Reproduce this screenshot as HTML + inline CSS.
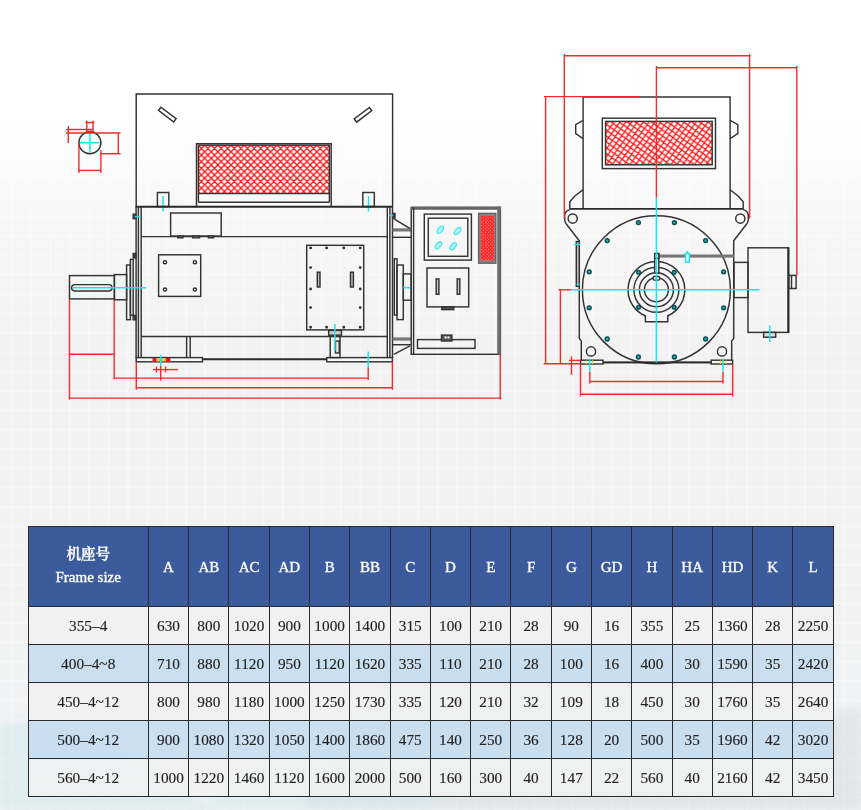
<!DOCTYPE html>
<html lang="zh"><head><meta charset="utf-8"><title>Frame size</title>
<style>
html,body{margin:0;padding:0;background:#fff;}
body{width:861px;height:810px;overflow:hidden;font-family:"Liberation Serif","Noto Serif CJK SC",serif;}
.page{position:relative;width:861px;height:810px;overflow:hidden;background:#fff;}
.bg{position:absolute;left:0;top:0;width:861px;height:810px;
 background:linear-gradient(to bottom,#ffffff 0px,#ffffff 115px,#f9f9f9 190px,#f5f5f5 270px,#f3f2f2 350px,#f3f2f2 560px,#eef2f4 810px);}
.grid{position:absolute;left:0;top:0;width:861px;height:810px;
 background-image:linear-gradient(to right,rgba(255,255,255,.3) 0,rgba(255,255,255,.3) 2px,transparent 2px),
 linear-gradient(to bottom,rgba(255,255,255,.3) 0,rgba(255,255,255,.3) 2px,transparent 2px);
 background-size:19.35px 19.35px;background-position:11px 3px;}
svg.d,svg.deco{position:absolute;left:0;top:0;}
svg.d{filter:blur(.3px);}
table.t{position:absolute;left:27.5px;top:526px;border-collapse:collapse;table-layout:fixed;width:805.5px;}
table.t th,table.t td{box-sizing:border-box;border:1px solid #2a2a2a;padding:0;text-align:center;vertical-align:middle;font-weight:normal;}
table.t th{background:#3c5b9c;color:#fff;-webkit-text-stroke:.35px #fff;padding-top:1px;height:80px;font-size:15px;width:40.29px;}
table.t th.f{width:120.4px;font-size:15px;line-height:23px;padding-bottom:3px;}
.cn{font-weight:600;font-size:14.5px;}
table.t td{-webkit-text-stroke:.15px #222;height:38px;font-size:15.3px;color:#222;}
tr.w td{background:rgba(241,241,241,.85);}
tr.b td{background:rgba(199,221,240,.9);}

</style></head>
<body>
<div class="page">
<div class="bg"></div>
<div class="grid"></div>
<svg class="deco" width="861" height="810" viewBox="0 0 861 810">
<defs><filter id="sb" x="-10%" y="-10%" width="120%" height="120%"><feGaussianBlur stdDeviation="5"/></filter></defs>
<g filter="url(#sb)">
<path d="M430 650C520 615 640 640 740 690C790 712 830 715 861 708V810H300C330 740 370 675 430 650Z" fill="#d6dcdf" opacity=".55"/>
<path d="M0 725C50 715 120 740 180 785C195 795 203 803 210 810H0Z" fill="#d3e7ec" opacity=".6"/>
<path d="M200 810C230 770 290 745 350 760C400 772 430 795 440 810Z" fill="#d4e9ee" opacity=".55"/>
</g>
</svg>
<svg class="d" width="861" height="810" viewBox="0 0 861 810">
<defs>
<pattern id="mesh" patternUnits="userSpaceOnUse" width="6.6" height="6.6">
<rect x="0" y="0" width="6.6" height="6.6" fill="#fff"/>
<path d="M-1 -1L7.6 7.6M-1 7.6L7.6 -1M-1 5.6L1 7.6M5.6 -1L7.6 1M-1 1L1 -1M5.6 7.6L7.6 5.6" stroke="#ff1616" stroke-width="1.35" fill="none"/>
</pattern>
<pattern id="mesh3" patternUnits="userSpaceOnUse" width="6.7" height="6.7" patternTransform="rotate(-9)">
<rect x="0" y="0" width="6.7" height="6.7" fill="#fff"/>
<path d="M-1 -1L7.7 7.7M-1 7.7L7.7 -1M-1 5.7L1 7.7M5.7 -1L7.7 1M-1 1L1 -1M5.7 7.7L7.7 5.7" stroke="#ff1616" stroke-width="1.35" fill="none"/>
</pattern>
<pattern id="mesh2" patternUnits="userSpaceOnUse" width="2.4" height="2.4" patternTransform="rotate(45)">
<rect x="0" y="0" width="2.4" height="2.4" fill="#ff2626"/>
<rect x="0.6" y="0.6" width="1" height="1" fill="#ff9c9c"/>
</pattern>
</defs>
<style>
.k{stroke:#333;stroke-width:1.45;fill:none}
.kf{stroke:#333;stroke-width:1.45;fill:#f7f7f7}
.k2{stroke:#2a2a2a;stroke-width:1.9;fill:none}
.g{stroke:none;fill:#777}
.r{stroke:#f52a2a;stroke-width:1.4;fill:none}
.c{stroke:#1fe3ea;stroke-width:1.5;fill:none}
.y{stroke:#e8e020;stroke-width:1.2;fill:none}
.b{stroke:#0a4d52;stroke-width:1.5;fill:#1cc4cb}
</style>
<g id="side">
<path class="k" d="M136.2 206.5V94H392.6V206.5"/>
<rect class="k" x="-9.5" y="-2" width="19" height="4" transform="translate(167.3 114.6) rotate(37)"/>
<rect class="k" x="-9.5" y="-2" width="19" height="4" transform="translate(363 114.8) rotate(-37)"/>
<path class="k" d="M196.5 206.5V143.8H331.2V206.5"/>
<rect class="k" x="198.4" y="145.2" width="131.0" height="48.3" style="fill:url(#mesh)"/>
<line class="k" x1="198.4" y1="202.2" x2="329.4" y2="202.2"/>
<line class="k" x1="198.4" y1="193.5" x2="198.4" y2="202.2"/>
<line class="k" x1="329.4" y1="193.5" x2="329.4" y2="202.2"/>
<rect class="k" x="157.4" y="192.5" width="11.4" height="14.0"/>
<rect class="k" x="362.8" y="192.5" width="11.5" height="14.0"/>
<line class="c" x1="163.1" y1="196" x2="163.1" y2="211.5"/>
<line class="c" x1="368.5" y1="196" x2="368.5" y2="211.5"/>
<line class="k2" x1="135.6" y1="206.7" x2="393" y2="206.7"/>
<line class="k" x1="136.1" y1="206.5" x2="136.1" y2="358"/>
<line class="k" x1="138.4" y1="206.5" x2="138.4" y2="358"/>
<line class="k" x1="141.2" y1="206.5" x2="141.2" y2="358"/>
<line class="k" x1="387.3" y1="206.5" x2="387.3" y2="358"/>
<line class="k" x1="389.9" y1="206.5" x2="389.9" y2="358"/>
<line class="k" x1="392.5" y1="206.5" x2="392.5" y2="358"/>
<line class="k" x1="141.2" y1="236.6" x2="387.3" y2="236.6"/>
<line class="k" x1="141.2" y1="336.4" x2="387.3" y2="336.4"/>
<line class="k" x1="186.6" y1="336.4" x2="186.6" y2="357.6"/>
<line class="k" x1="190.2" y1="336.4" x2="190.2" y2="357.6"/>
<line class="k2" x1="202.5" y1="359.2" x2="326.8" y2="359.2"/>
<rect class="kf" x="136.2" y="357.6" width="66.3" height="4.2"/>
<rect class="kf" x="326.8" y="357.6" width="65.6" height="4.2"/>
<rect class="k" x="133.2" y="214.20000000000002" width="2.6" height="4.4" style="fill:#444"/>
<rect class="k" x="133.2" y="253.5" width="2.6" height="4.4" style="fill:#444"/>
<rect class="k" x="133.2" y="315.40000000000003" width="2.6" height="4.4" style="fill:#444"/>
<line class="c" x1="135" y1="216.6" x2="140" y2="216.6"/>
<rect class="k" x="392.6" y="213.5" width="2.4" height="4.5" style="fill:#444"/>
<line class="c" x1="389" y1="215.5" x2="393" y2="215.5"/>
<rect class="k" x="170.6" y="213" width="50.6" height="23"/>
<rect class="k" x="177.7" y="236" width="5.2" height="1.8" style="fill:#999"/>
<rect class="k" x="192.6" y="236" width="6.9" height="1.8" style="fill:#999"/>
<rect class="k" x="208.4" y="236" width="5.1" height="1.8" style="fill:#999"/>
<rect class="k" x="158.6" y="254.8" width="42.1" height="41.6"/>
<circle class="k" cx="165" cy="262.2" r="1.6"/>
<circle class="k" cx="194.9" cy="262.2" r="1.6"/>
<circle class="k" cx="165" cy="289.5" r="1.6"/>
<circle class="k" cx="194.9" cy="289.5" r="1.6"/>
<rect class="k" x="306.7" y="245.3" width="57.0" height="84.6"/>
<circle class="k" cx="310.6" cy="247.9" r="0.7" style="fill:#333"/>
<circle class="k" cx="310.6" cy="327.3" r="0.7" style="fill:#333"/>
<circle class="k" cx="326.6" cy="247.9" r="0.7" style="fill:#333"/>
<circle class="k" cx="326.6" cy="327.3" r="0.7" style="fill:#333"/>
<circle class="k" cx="343.8" cy="247.9" r="0.7" style="fill:#333"/>
<circle class="k" cx="343.8" cy="327.3" r="0.7" style="fill:#333"/>
<circle class="k" cx="360.2" cy="247.9" r="0.7" style="fill:#333"/>
<circle class="k" cx="360.2" cy="327.3" r="0.7" style="fill:#333"/>
<circle class="k" cx="310.6" cy="267.6" r="0.7" style="fill:#333"/>
<circle class="k" cx="360.2" cy="267.6" r="0.7" style="fill:#333"/>
<circle class="k" cx="310.6" cy="289" r="0.7" style="fill:#333"/>
<circle class="k" cx="360.2" cy="289" r="0.7" style="fill:#333"/>
<circle class="k" cx="310.6" cy="307.6" r="0.7" style="fill:#333"/>
<circle class="k" cx="360.2" cy="307.6" r="0.7" style="fill:#333"/>
<rect class="k" x="317.3" y="272.2" width="2.7" height="14.8" style="fill:#bbb"/>
<rect class="k" x="350.5" y="272.2" width="2.9" height="14.8" style="fill:#bbb"/>
<rect class="k" x="328.7" y="330.4" width="12.8" height="4.8" style="fill:#ccc"/>
<rect class="k" x="330.2" y="336.4" width="9.8" height="21.2"/>
<rect class="k" x="335.5" y="341" width="3.7" height="12"/>
<line class="c" x1="334.9" y1="324" x2="334.9" y2="351"/>
<rect class="k" x="69.5" y="275.6" width="44.9" height="23.3"/>
<rect class="k" x="71.6" y="284.6" width="40.5" height="6.3" rx="3.1" ry="3.1"/>
<rect class="k" x="114.4" y="274.6" width="12.2" height="25.2"/>
<rect class="k" x="126.6" y="265" width="3.8" height="54.7"/>
<rect class="k" x="130.4" y="259.4" width="2.8" height="55.8"/>
<line class="c" x1="72" y1="287.7" x2="146.2" y2="287.7"/>
<rect class="k" x="394.3" y="258.8" width="2.7" height="56.2"/>
<rect class="k" x="397" y="265" width="6.3" height="54.6"/>
<rect class="k" x="403.3" y="273.9" width="7.9" height="26.3"/>
<line class="c" x1="403.3" y1="287.7" x2="411.2" y2="287.7"/>
<rect class="g" x="392.5" y="228.3" width="18.7" height="3.2"/>
<line class="k" x1="392.5" y1="237.3" x2="411.2" y2="237.3"/>
<line class="k" x1="393.9" y1="218.9" x2="409.8" y2="228.3"/>
<rect class="g" x="392.5" y="337.4" width="18.7" height="3.2"/>
<line class="k" x1="392.5" y1="344.7" x2="411.2" y2="344.7"/>
<line class="k" x1="409.8" y1="345.8" x2="393.9" y2="354.4"/>
<rect class="k" x="411.2" y="207.5" width="89.2" height="146.8"/>
<rect x="411.2" y="206.6" width="89.4" height="3.2" fill="#666"/>
<rect x="497.2" y="206.6" width="3.6" height="147.7" fill="#6e6e6e"/>
<line class="k" x1="413.6" y1="207.5" x2="413.6" y2="354.3"/>
<rect class="k" x="424.3" y="214.1" width="47.1" height="46.0"/>
<rect class="k" x="428.3" y="218.2" width="39.5" height="38.1"/>
<ellipse class="c" style="stroke-width:1.3;fill:#b5f6f9;stroke:#45e6ec" cx="440.3" cy="229.8" rx="4.2" ry="2.2" fill="#dffbfc" transform="rotate(-50 440.3 229.8)"/>
<ellipse class="c" style="stroke-width:1.3;fill:#b5f6f9;stroke:#45e6ec" cx="457.6" cy="231" rx="4.2" ry="2.2" fill="#dffbfc" transform="rotate(-50 457.6 231)"/>
<ellipse class="c" style="stroke-width:1.3;fill:#b5f6f9;stroke:#45e6ec" cx="438.4" cy="245.4" rx="4.2" ry="2.2" fill="#dffbfc" transform="rotate(-50 438.4 245.4)"/>
<ellipse class="c" style="stroke-width:1.3;fill:#b5f6f9;stroke:#45e6ec" cx="453.2" cy="246.3" rx="4.2" ry="2.2" fill="#dffbfc" transform="rotate(-50 453.2 246.3)"/>
<rect class="k" x="478.6" y="213.4" width="17.2" height="49.8" style="fill:#858585;stroke:#666"/>
<rect class="k" x="480.8" y="216" width="13.4" height="44.3" style="fill:url(#mesh2);stroke:none"/>
<rect class="k" x="427" y="268" width="41.7" height="38.9"/>
<rect class="k" x="436.2" y="278.9" width="2.7" height="15.4" style="fill:#ccc"/>
<rect class="k" x="457.2" y="278.9" width="2.6" height="15.4" style="fill:#ccc"/>
<rect class="k" x="441.8" y="306.9" width="11.9" height="2.7" style="fill:#555"/>
<rect class="k" x="417.5" y="339.6" width="57.5" height="8.8"/>
<rect class="k" x="441.5" y="335.1" width="10.4" height="5.9" style="fill:#555"/>
<rect class="k" x="444.5" y="336.4" width="2.0" height="2.0" style="fill:#fff;stroke:none"/>
<rect class="k" x="447.5" y="336.4" width="2.0" height="2.0" style="fill:#fff;stroke:none"/>
<line class="r" x1="69.5" y1="299" x2="69.5" y2="399.6"/>
<line class="r" x1="114.2" y1="299.8" x2="114.2" y2="379.2"/>
<line class="r" x1="69.5" y1="354.3" x2="114.2" y2="354.3"/>
<line class="r" x1="114.2" y1="378.1" x2="368.2" y2="378.1"/>
<line class="r" x1="136.3" y1="362" x2="136.3" y2="389.8"/>
<line class="r" x1="392.4" y1="362" x2="392.4" y2="389.8"/>
<line class="r" x1="136.3" y1="387.8" x2="392.4" y2="387.8"/>
<line class="r" x1="69.5" y1="398.1" x2="500.3" y2="398.1"/>
<line class="r" x1="500.3" y1="354.3" x2="500.3" y2="399.6"/>
<line class="r" x1="368.2" y1="367" x2="368.2" y2="380"/>
<line class="c" x1="368.2" y1="351.5" x2="368.2" y2="367.4"/>
<rect class="k" x="152.6" y="358" width="4.0" height="4" style="fill:#e01818;stroke:none"/>
<rect class="k" x="165.6" y="358" width="4.8" height="4" style="fill:#e01818;stroke:none"/>
<rect class="k" x="156.6" y="358.6" width="9.0" height="2.8" style="fill:#f1c232;stroke:none"/>
<line class="c" x1="160.7" y1="354.8" x2="160.7" y2="366"/>
<line class="r" x1="160.7" y1="366" x2="160.7" y2="380.5"/>
<line class="r" x1="153" y1="369.6" x2="178" y2="369.6"/>
<line class="r" x1="156.5" y1="366.5" x2="156.5" y2="372.5"/>
<line class="r" x1="165.5" y1="366.5" x2="165.5" y2="372.5"/>
</g>
<g id="key">
<circle class="k" cx="89.9" cy="142.7" r="11"/>
<line class="c" x1="80" y1="142.7" x2="99.6" y2="142.7"/>
<line class="c" x1="89.9" y1="133" x2="89.9" y2="152.5"/>
<rect class="k" x="86.8" y="130.6" width="6.2" height="2.2" style="fill:#d22;stroke:none"/>
<line class="r" x1="86.8" y1="120.5" x2="86.8" y2="133"/>
<line class="r" x1="93" y1="120.5" x2="93" y2="133"/>
<line class="r" x1="85.5" y1="122.6" x2="94.5" y2="122.6"/>
<line class="r" x1="66" y1="129.5" x2="93" y2="129.5"/>
<line class="r" x1="66" y1="133" x2="120.5" y2="133"/>
<line class="r" x1="68.3" y1="126" x2="68.3" y2="143"/>
<line class="r" x1="100" y1="153.7" x2="120.5" y2="153.7"/>
<line class="r" x1="118.3" y1="133" x2="118.3" y2="153.7"/>
<line class="r" x1="78.9" y1="143" x2="78.9" y2="173"/>
<line class="r" x1="100.9" y1="150" x2="100.9" y2="173"/>
<line class="r" x1="78.9" y1="170.4" x2="100.9" y2="170.4"/>
</g>
<g id="end">
<path class="k" d="M583.1 208.8V97H730.1V208.8"/>
<path class="k" d="M583.1 120.4L575.7 124.7V133.5L583.1 138.7"/>
<path class="k" d="M730.1 120.4L737.8 124.7V133.5L730.1 138.7"/>
<path class="k" d="M583.1 189.7L574.6 196.2L569.8 201.8V208.8"/>
<path class="k" d="M730.1 189.7L738.4 196.2L743.2 201.8V208.8"/>
<line class="k2" x1="569.4" y1="208.9" x2="743.6" y2="208.9"/>
<rect class="k" x="602.3" y="118.2" width="113.2" height="50.4"/>
<rect class="k" x="605.6" y="121.4" width="106.6" height="43.4" style="fill:url(#mesh3)"/>
<path class="k" d="M569.8 209.6Q564.7 211 564.7 216V219.5Q564.7 222 566.5 224.2L579.3 240.7V338.4L581.3 340.9V362.5H731.7V340.9L733.7 338.4V240.7L746.5 224.2Q748.3 222 748.3 219.5V216Q748.3 211 743.2 209.6"/>
<circle class="k" cx="572.7" cy="218.6" r="4.6"/>
<circle class="k" cx="740.3" cy="218.6" r="4.6"/>
<circle class="k" cx="591" cy="351.4" r="4.6"/>
<circle class="k" cx="722" cy="351.4" r="4.6"/>
<circle class="k" cx="656.4" cy="289.8" r="74"/>
<circle class="b" cx="723.6" cy="307.8" r="1.9"/>
<circle class="b" cx="705.6" cy="339.0" r="1.9"/>
<circle class="b" cx="674.4" cy="357.0" r="1.9"/>
<circle class="b" cx="638.4" cy="357.0" r="1.9"/>
<circle class="b" cx="607.2" cy="339.0" r="1.9"/>
<circle class="b" cx="589.2" cy="307.8" r="1.9"/>
<circle class="b" cx="589.2" cy="271.8" r="1.9"/>
<circle class="b" cx="607.2" cy="240.6" r="1.9"/>
<circle class="b" cx="638.4" cy="222.6" r="1.9"/>
<circle class="b" cx="674.4" cy="222.6" r="1.9"/>
<circle class="b" cx="705.6" cy="240.6" r="1.9"/>
<circle class="b" cx="723.6" cy="271.8" r="1.9"/>
<circle class="k" cx="656.4" cy="289.8" r="28.4"/>
<circle class="k" cx="656.4" cy="289.8" r="22.5"/>
<circle class="k" cx="656.4" cy="289.8" r="17"/>
<circle class="k" cx="656.4" cy="289.8" r="12"/>
<circle class="b" cx="638.6" cy="272.3" r="1.8"/>
<circle class="b" cx="638.6" cy="307.3" r="1.8"/>
<circle class="b" cx="674.2" cy="272.3" r="1.8"/>
<circle class="b" cx="674.2" cy="307.3" r="1.8"/>
<rect x="646" y="313.7" width="21.2" height="8" fill="#f5f5f5"/>
<path class="k" d="M645.4 315.6V321.8H667.8V315.6"/>
<rect class="kf" x="653.2" y="276.4" width="6.4" height="3.7" rx="1" ry="1"/>
<rect class="g" x="658.8" y="254.5" width="75" height="3.1"/>
<rect class="kf" x="654.7" y="253.6" width="4.1" height="19.4"/>
<rect class="kf" x="654.7" y="253.6" width="4.1" height="4.8"/>
<rect class="c" x="685.6" y="253.5" width="3.7" height="8.5" style="fill:#fff"/>
<line class="c" x1="687.4" y1="251" x2="687.4" y2="254"/>
<rect class="k" x="576.3" y="241.5" width="3.0" height="44.9" style="fill:#bbb"/>
<line class="c" x1="574" y1="244.4" x2="580.5" y2="244.4"/>
<line class="c" x1="576.5" y1="284.5" x2="579.5" y2="284.5"/>
<rect class="k" x="734" y="262.4" width="14" height="35.2"/>
<rect class="k" x="748" y="247.8" width="40.7" height="84.6"/>
<line class="k2" x1="788.2" y1="247.8" x2="788.2" y2="332.4"/>
<rect class="k" x="788.7" y="275.4" width="7.4" height="13.1"/>
<line class="k" x1="791.5" y1="275.4" x2="791.5" y2="288.5"/>
<rect class="k" x="763.6" y="332.4" width="12.1" height="4.8" style="fill:#ddd"/>
<line class="c" x1="769.8" y1="325.2" x2="769.8" y2="342.1"/>
<rect class="kf" x="580.6" y="360.2" width="22.4" height="3.8"/>
<rect class="kf" x="711.2" y="360.2" width="21.4" height="3.8"/>
<line class="k2" x1="603" y1="362.4" x2="711.2" y2="362.4"/>
<line class="y" x1="586.3" y1="360.4" x2="586.3" y2="364"/>
<line class="y" x1="592.5" y1="360.4" x2="592.5" y2="364"/>
<line class="y" x1="720.3" y1="360.4" x2="720.3" y2="364"/>
<line class="y" x1="726" y1="360.4" x2="726" y2="364"/>
<line class="c" x1="570.9" y1="289.8" x2="759.4" y2="289.8"/>
<line class="c" x1="656.4" y1="197.8" x2="656.4" y2="362.6"/>
<line class="c" x1="589.8" y1="358.8" x2="589.8" y2="371.7"/>
<line class="c" x1="723" y1="358.8" x2="723" y2="371.7"/>
<line class="r" x1="564.3" y1="55.7" x2="749.6" y2="55.7"/>
<line class="r" x1="564.3" y1="54" x2="564.3" y2="218.5"/>
<line class="r" x1="749.6" y1="54" x2="749.6" y2="218.5"/>
<line class="r" x1="656.4" y1="67.8" x2="796.8" y2="67.8"/>
<line class="r" x1="656.4" y1="66" x2="656.4" y2="197.8"/>
<line class="r" x1="796.8" y1="66" x2="796.8" y2="275.4"/>
<line class="r" x1="544" y1="96.6" x2="639.7" y2="96.6"/>
<line class="r" x1="545.6" y1="96.6" x2="545.6" y2="363.8"/>
<line class="r" x1="543.7" y1="363.8" x2="580.6" y2="363.8"/>
<line class="r" x1="558.5" y1="289.8" x2="570.9" y2="289.8"/>
<line class="r" x1="560.4" y1="289.8" x2="560.4" y2="363.8"/>
<line class="r" x1="571.5" y1="356.3" x2="571.5" y2="374.8"/>
<line class="r" x1="569" y1="360.4" x2="580.6" y2="360.4"/>
<line class="r" x1="580.5" y1="364" x2="580.5" y2="396.4"/>
<line class="r" x1="732.7" y1="364" x2="732.7" y2="396.4"/>
<line class="r" x1="580.5" y1="394.2" x2="732.7" y2="394.2"/>
<line class="r" x1="589.8" y1="371.7" x2="589.8" y2="383.6"/>
<line class="r" x1="723" y1="371.7" x2="723" y2="383.6"/>
<line class="r" x1="589.8" y1="381.5" x2="723" y2="381.5"/>
</g>
</svg>
<table class="t"><thead><tr><th class="f"><span class="cn">机座号</span><br><span class="en">Frame size</span></th><th>A</th><th>AB</th><th>AC</th><th>AD</th><th>B</th><th>BB</th><th>C</th><th>D</th><th>E</th><th>F</th><th>G</th><th>GD</th><th>H</th><th>HA</th><th>HD</th><th>K</th><th>L</th></tr></thead>
<tbody>
<tr class="w"><td>355–4</td><td>630</td><td>800</td><td>1020</td><td>900</td><td>1000</td><td>1400</td><td>315</td><td>100</td><td>210</td><td>28</td><td>90</td><td>16</td><td>355</td><td>25</td><td>1360</td><td>28</td><td>2250</td></tr>
<tr class="b"><td>400–4~8</td><td>710</td><td>880</td><td>1120</td><td>950</td><td>1120</td><td>1620</td><td>335</td><td>110</td><td>210</td><td>28</td><td>100</td><td>16</td><td>400</td><td>30</td><td>1590</td><td>35</td><td>2420</td></tr>
<tr class="w"><td>450–4~12</td><td>800</td><td>980</td><td>1180</td><td>1000</td><td>1250</td><td>1730</td><td>335</td><td>120</td><td>210</td><td>32</td><td>109</td><td>18</td><td>450</td><td>30</td><td>1760</td><td>35</td><td>2640</td></tr>
<tr class="b"><td>500–4~12</td><td>900</td><td>1080</td><td>1320</td><td>1050</td><td>1400</td><td>1860</td><td>475</td><td>140</td><td>250</td><td>36</td><td>128</td><td>20</td><td>500</td><td>35</td><td>1960</td><td>42</td><td>3020</td></tr>
<tr class="w"><td>560–4~12</td><td>1000</td><td>1220</td><td>1460</td><td>1120</td><td>1600</td><td>2000</td><td>500</td><td>160</td><td>300</td><td>40</td><td>147</td><td>22</td><td>560</td><td>40</td><td>2160</td><td>42</td><td>3450</td></tr>
</tbody></table>
</div>
</body></html>
